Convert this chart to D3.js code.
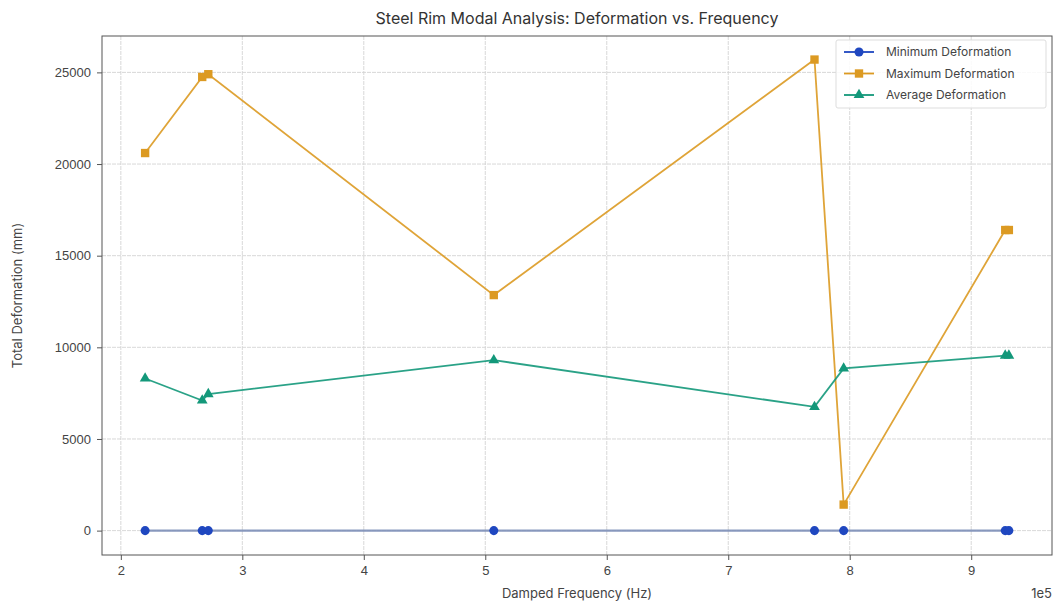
<!DOCTYPE html>
<html><head><meta charset="utf-8">
<script src="https://cdn.jsdelivr.net/npm/d3@7"></script>
<style>body{margin:0;background:#fff}svg{font-family:Inter,"Noto Sans",sans-serif}</style>
</head><body><svg id="c" width="1055" height="604"></svg>
<script>
const freq = [2.20e5, 2.67e5, 2.72e5, 5.07e5, 7.71e5, 7.95e5, 9.28e5, 9.31e5];
const minDef = [0, 0, 0, 0, 0, 0, 0, 0];
const maxDef = [20600, 24750, 24900, 12850, 25700, 1420, 16400, 16400];
const avgDef = [8300, 7100, 7450, 9300, 6750, 8850, 9550, 9550];
const xTicks = [2, 3, 4, 5, 6, 7, 8, 9];
const yTicks = [0, 5000, 10000, 15000, 20000, 25000];
const seriesNames = ["Minimum Deformation", "Maximum Deformation", "Average Deformation"];

const svg = d3.select("#c");
const L = 102, R = 1052, T = 36, B = 555;
const x = d3.scaleLinear().domain([1.845e5, 9.665e5]).range([L, R]);
const y = d3.scaleLinear().domain([-1330, 26985]).range([B, T]);

// grid
const g = svg.append("g");
g.selectAll(".gx").data(xTicks).join("line")
  .attr("x1", d => x(d*1e5)).attr("x2", d => x(d*1e5)).attr("y1", T).attr("y2", B)
  .attr("stroke", "#d4d4d4").attr("stroke-width", 0.9).attr("stroke-dasharray", "4,1");
g.selectAll(".gy").data(yTicks).join("line")
  .attr("y1", d => y(d)).attr("y2", d => y(d)).attr("x1", L).attr("x2", R)
  .attr("stroke", "#d4d4d4").attr("stroke-width", 0.9).attr("stroke-dasharray", "4,1");

// axes
const xa = svg.append("g").attr("transform", `translate(0,${B})`)
  .call(d3.axisBottom(x).tickValues(xTicks.map(d => d*1e5)).tickFormat(d => d/1e5).tickSize(5).tickPadding(6));
const ya = svg.append("g").attr("transform", `translate(${L},0)`)
  .call(d3.axisLeft(y).tickValues(yTicks).tickFormat(d => d).tickSize(5).tickPadding(6));
[xa, ya].forEach(a => {
  a.select(".domain").remove();
  a.selectAll("line").attr("stroke", "#555");
  a.selectAll("text").attr("fill", "#444").style("font-size", "13px");
});
svg.append("rect").attr("x", L).attr("y", T).attr("width", R-L).attr("height", B-T)
  .attr("fill", "none").attr("stroke", "#555").attr("stroke-width", 1);

const colors = ["#1f47c0", "#dc9a22", "#13987a"];
const data = [minDef, maxDef, avgDef];
const line = d3.line().x((d,i) => x(freq[i])).y(d => y(d));
const sym = [d3.symbolCircle, d3.symbolSquare, d3.symbolTriangle];
const symSize = [64, 70, 50];

data.forEach((s, k) => {
  svg.append("path").datum(s).attr("d", line).attr("fill", "none")
    .attr("stroke", k === 0 ? "#7d8fb8" : colors[k]).attr("stroke-width", k === 0 ? 2.2 : 1.8)
    .attr("stroke-opacity", k === 0 ? 0.9 : 0.9);
  svg.append("g").selectAll("path").data(s).join("path")
    .attr("transform", (d,i) => `translate(${x(freq[i])},${y(d)})`)
    .attr("d", d3.symbol().type(sym[k]).size(symSize[k]))
    .attr("fill", colors[k]);
});

// legend
const lg = svg.append("g").attr("transform", "translate(836,40)");
lg.append("rect").attr("width", 210).attr("height", 68).attr("rx", 2)
  .attr("fill", "#fff").attr("fill-opacity", 0.85).attr("stroke", "#ddd");
seriesNames.forEach((n, k) => {
  const yy = 12 + k*21.5;
  lg.append("line").attr("x1", 8).attr("x2", 38).attr("y1", yy).attr("y2", yy)
    .attr("stroke", colors[k]).attr("stroke-width", 1.8);
  lg.append("path").attr("transform", `translate(23,${yy})`)
    .attr("d", d3.symbol().type(sym[k]).size(symSize[k])).attr("fill", colors[k]);
  lg.append("text").attr("x", 50).attr("y", yy + 4).text(n)
    .attr("fill", "#444").style("font-size", "12px");
});

// labels
svg.append("text").attr("x", (L+R)/2).attr("y", 24).attr("text-anchor", "middle")
  .attr("fill", "#333").style("font-size", "16px").text("Steel Rim Modal Analysis: Deformation vs. Frequency");
svg.append("text").attr("x", (L+R)/2).attr("y", 598).attr("text-anchor", "middle")
  .attr("fill", "#444").style("font-size", "13px").text("Damped Frequency (Hz)");
svg.append("text").attr("transform", `translate(22,${(T+B)/2}) rotate(-90)`).attr("text-anchor", "middle")
  .attr("fill", "#444").style("font-size", "13px").text("Total Deformation (mm)");
svg.append("text").attr("x", R).attr("y", 598).attr("text-anchor", "end")
  .attr("fill", "#444").style("font-size", "13px").text("1e5");
</script></body></html>
